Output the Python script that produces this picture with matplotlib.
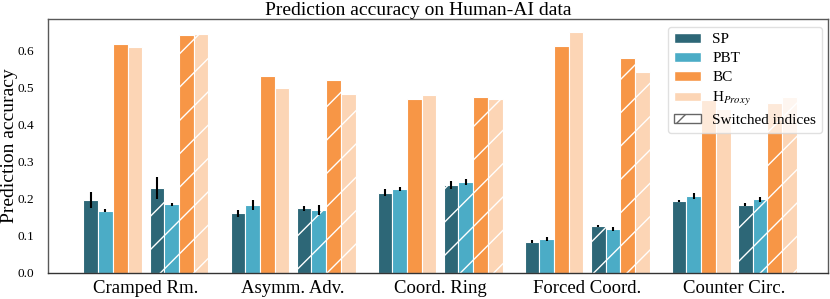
import matplotlib
matplotlib.use('Agg')
import matplotlib.pyplot as plt
from matplotlib.patches import Patch
import numpy as np

plt.rcParams['font.family'] = ['Liberation Serif', 'DejaVu Serif']
plt.rcParams['mathtext.fontset'] = 'stix'
plt.rcParams['hatch.linewidth'] = 1.0

layouts = ['Cramped Rm.', 'Asymm. Adv.', 'Coord. Ring', 'Forced Coord.', 'Counter Circ.']
agents = ['SP', 'PBT', 'BC', 'H$_{Proxy}$']
colors = ['#2d6777', '#4bacc6', '#f79646', '#fcd5b5']

# original indices
sp_mean = [0.197, 0.161, 0.217, 0.085, 0.195]
sp_err = [0.022, 0.009, 0.010, 0.003, 0.002]
pbt_mean = [0.168, 0.183, 0.227, 0.091, 0.209]
pbt_err = [0.004, 0.013, 0.005, 0.005, 0.008]
bc_mean = [0.619, 0.532, 0.471, 0.614, 0.468]
hp_mean = [0.611, 0.500, 0.481, 0.650, 0.443]

# switched indices
sp_sw_mean = [0.230, 0.175, 0.237, 0.127, 0.185]
sp_sw_err = [0.030, 0.007, 0.011, 0.003, 0.005]
pbt_sw_mean = [0.186, 0.170, 0.246, 0.119, 0.199]
pbt_sw_err = [0.004, 0.014, 0.007, 0.005, 0.007]
bc_sw_mean = [0.644, 0.522, 0.476, 0.581, 0.460]
hp_sw_mean = [0.646, 0.484, 0.469, 0.542, 0.475]

normal = [(sp_mean, sp_err), (pbt_mean, pbt_err), (bc_mean, None), (hp_mean, None)]
switched = [(sp_sw_mean, sp_sw_err), (pbt_sw_mean, pbt_sw_err), (bc_sw_mean, None), (hp_sw_mean, None)]

fig = plt.figure(figsize=(8.3, 2.99), dpi=100)
ax = fig.add_axes([0.058, 0.087, 0.94, 0.849])

ind = np.arange(len(layouts))
width = 0.1
offsets_n = [-0.375, -0.275, -0.175, -0.075]
offsets_s = [0.075, 0.175, 0.275, 0.375]

for i in range(4):
    vals, err = normal[i]
    ax.bar(ind + offsets_n[i], vals, width, color=colors[i], edgecolor='white', linewidth=0.8,
           yerr=err, error_kw=dict(ecolor='black', elinewidth=1.5, capsize=0))
    vals, err = switched[i]
    ax.bar(ind + offsets_s[i], vals, width, color=colors[i], edgecolor='white', linewidth=0.8,
           hatch='/', yerr=err, error_kw=dict(ecolor='black', elinewidth=1.5, capsize=0))

ax.set_xticks(ind)
ax.set_xticklabels(layouts, fontsize=13.5)
ax.set_xlim(-0.665, 4.64)
ax.set_ylim(0, 0.686)
ax.set_yticks([0.0, 0.1, 0.2, 0.3, 0.4, 0.5, 0.6])
ax.set_yticklabels(['0.0', '0.1', '0.2', '0.3', '0.4', '0.5', '0.6'], fontsize=9.5)
ax.tick_params(axis='y', length=0, pad=10)
ax.tick_params(axis='x', length=0, pad=5)
ax.set_ylabel('Prediction accuracy', fontsize=14)
ax.yaxis.set_label_coords(-0.039, 0.5)
ax.set_title('Prediction accuracy on Human-AI data', fontsize=14, pad=3, x=0.474)
for s in ax.spines.values():
    s.set_color('0.35')
    s.set_linewidth(1.0)
ax.spines['bottom'].set_color('0.2')

handles = [Patch(facecolor=c, edgecolor='white', label=a) for c, a in zip(colors, agents)]
handles.append(Patch(facecolor='white', edgecolor='0.4', hatch='/', label='Switched indices'))
ax.legend(handles=handles, loc='upper right', fontsize=11, handlelength=1.8, handleheight=0.6,
          handletextpad=0.7, frameon=True, framealpha=0.8, edgecolor='0.85', borderpad=0.4,
          labelspacing=0.38, borderaxespad=0, bbox_to_anchor=(0.992, 0.97))

fig.savefig('out.png', dpi=100)
